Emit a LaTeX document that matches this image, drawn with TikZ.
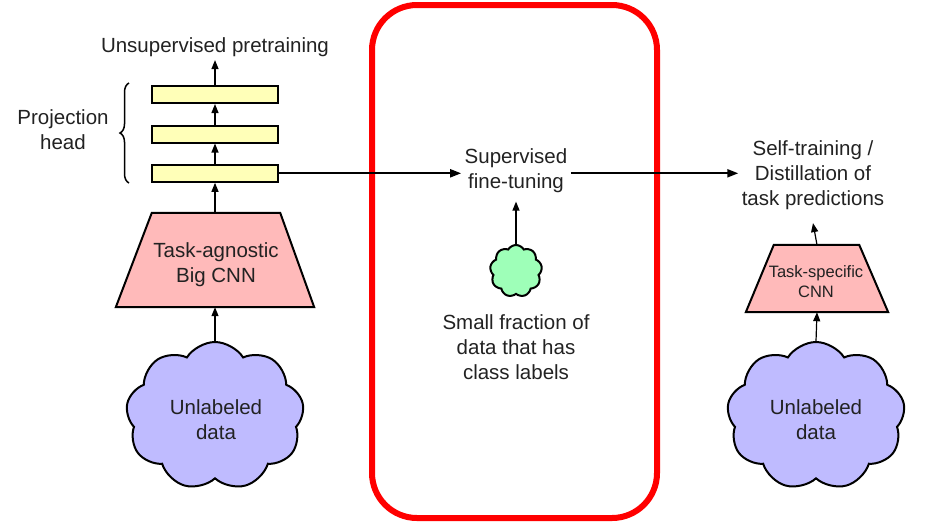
\documentclass[tikz,border=0pt]{standalone}
\usepackage{fontspec}
\setmainfont{Liberation Sans}
\usetikzlibrary{shapes.symbols,shapes.geometric,arrows.meta,decorations.pathreplacing,calc}
\definecolor{barY}{HTML}{FFFFB8}
\definecolor{cnnP}{HTML}{FFBABA}
\definecolor{cloudB}{HTML}{BFBBFF}
\definecolor{cloudG}{HTML}{9EFFB8}
\definecolor{txt}{HTML}{222222}
\begin{document}
\begin{tikzpicture}[x=1pt,y=-1pt,
  lbl/.style={font=\fontsize{20.5}{25}\selectfont, text=txt, align=center},
  smalllbl/.style={font=\fontsize{16.5}{20}\selectfont, text=txt, align=center},
  bar/.style={draw, line width=2pt, fill=barY, minimum width=126pt, minimum height=17pt, inner sep=0pt},
  arr/.style={line width=1.2pt, -{Triangle[length=9pt,width=7pt]}},
  harr/.style={line width=2pt, -{Triangle[length=11pt,width=8pt]}},
  cloudy/.style={cloud, cloud puffs=9, cloud puff arc=115, draw, line width=2pt, fill=cloudB, aspect=1.2, minimum width=178pt, minimum height=148pt, inner sep=0pt},
  ghost/.style={inner sep=0pt},
  trap/.style={draw, line width=2pt, fill=cnnP, line join=miter}
]
\useasboundingbox (0,0) rectangle (928,523);

% red frame
\draw[red, line width=6pt, rounded corners=45pt] (372,5) rectangle (657,518);

% left column
\node[lbl] (unsup) at (215,47) {Unsupervised pretraining};
\node[bar] (bar1) at (215,94.5) {};
\node[bar] (bar2) at (215,134) {};
\node[bar] (bar3) at (215,173.3) {};
\node[lbl] (proj) at (63,130) {Projection\\head};
\draw[line width=1.5pt, decorate, decoration={brace, amplitude=9pt}] (129,183) -- (129,83);

\node[ghost, minimum width=198pt, minimum height=94pt] (bigcnn) at (215,260) {};
\draw[trap] (bigcnn.south west) -- ($(bigcnn.north west)+(36,0)$) -- ($(bigcnn.north east)+(-34,0)$) -- (bigcnn.south east) -- cycle;
\node[lbl] at (216,265) {Task-agnostic\\Big CNN};

\node[cloudy] (cloudL) at (215,416) {};
\node[lbl] at (216,420) {Unlabeled\\data};

\draw[arr] (bar1.north) -- (unsup.south);
\draw[arr] (bar2.north) -- (bar1.south);
\draw[arr] (bar3.north) -- (bar2.south);
\draw[arr] (bigcnn.north) -- (bar3.south);
\draw[arr] (cloudL.north) -- (bigcnn.south);

% middle column
\node[lbl] (sup) at (516,171) {Supervised\\fine-tuning};
\node[cloud, cloud puffs=9, cloud puff arc=120, draw, line width=2pt, fill=cloudG, minimum width=52pt, minimum height=52pt, aspect=1, inner sep=0pt] (cloudM) at (516,271) {};
\node[lbl] (small) at (516,347) {Small fraction of\\data that has\\class labels};
\coordinate (supin) at ($(sup.south)+(0,5)$);
\draw[arr] (cloudM.north) -- (supin);

% right column
\node[lbl] (self) at (813,175) {Self-training /\\Distillation of\\task predictions};
\node[ghost, minimum width=142pt, minimum height=67pt] (smallcnn) at (817,278.5) {};
\draw[trap] (smallcnn.south west) -- ($(smallcnn.north west)+(28,0)$) -- ($(smallcnn.north east)+(-29,0)$) -- (smallcnn.south east) -- cycle;
\node[smalllbl] at (816,282) {Task-specific\\CNN};
\node[cloudy] (cloudR) at (816,416) {};
\node[lbl] at (816,420) {Unlabeled\\data};

\coordinate (selfin) at ($(self.south)+(0,10)$);
\draw[arr] (smallcnn.north) -- (selfin);
\draw[arr] (cloudR.north) -- (smallcnn.south);

% horizontal flow
\draw[harr] (bar3.east) -- (bar3.east -| sup.west);
\draw[harr] (sup.east |- bar3.east) -- (self.west |- bar3.east);
\end{tikzpicture}
\end{document}
